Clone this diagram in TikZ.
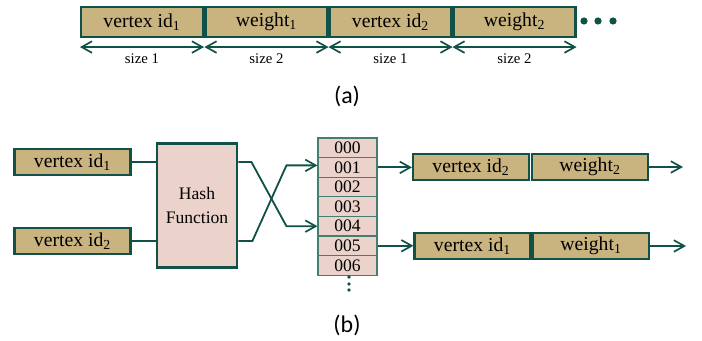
\documentclass[tikz,border=0pt]{standalone}
\usepackage{fontspec}
\setmainfont{Liberation Serif}
\newfontfamily\capfont{Carlito}
\usepackage{tikz}
\usetikzlibrary{arrows.meta, positioning, calc}
\usepackage{xcolor}
\definecolor{mteal}{RGB}{16,82,72}
\definecolor{mtan}{RGB}{201,179,126}
\definecolor{mpink}{RGB}{235,210,202}
\definecolor{lteal}{RGB}{70,125,115}

\begin{document}
\begin{tikzpicture}[x=0.025cm,y=-0.025cm,
  fld/.style={draw=mteal,line width=1.5pt,fill=mtan,inner sep=0pt,
              minimum width=3.05cm,minimum height=0.75cm,font=\fontsize{14}{16}\selectfont},
  fldb/.style={fld,minimum width=2.9cm,minimum height=0.64cm},
  cell/.style={draw=lteal,line width=0.8pt,fill=mpink,inner sep=0pt,
               minimum width=1.475cm,minimum height=0.49cm,font=\fontsize{12.5}{13}\selectfont},
  hashbox/.style={draw=mteal,line width=2pt,fill=mpink,inner sep=0pt,align=center,
                  minimum width=2cm,minimum height=3.1cm,font=\fontsize{12.5}{17}\selectfont},
  arr/.style={-{Straight Barb[length=2.6mm,width=2.9mm,line width=1.2pt]},mteal,line width=1.3pt},
  dim/.style={{Straight Barb[length=2.6mm,width=2.9mm,line width=1.2pt]}-{Straight Barb[length=2.6mm,width=2.9mm,line width=1.2pt]},mteal,line width=1.3pt},
  conn/.style={mteal,line width=1.3pt}
]
\useasboundingbox (0,0) rectangle (702,341);

% (a) record layout
\node[fld] (v1) at (142,22)   {vertex id\textsubscript{1}};
\node[fld] (w1) at (266.5,22) {weight\textsubscript{1}};
\node[fld] (v2) at (390.5,22) {vertex id\textsubscript{2}};
\node[fld] (w2) at (514.5,22) {weight\textsubscript{2}};
\foreach \x in {584,598,613} \fill[mteal] (\x,21) circle (3.6);

\foreach \b/\s in {v1/1,w1/2,v2/1,w2/2}
  \draw[dim] ($(\b.south west)+(0,9)$) -- ($(\b.south east)+(0,9)$)
    node[midway,below=1pt,text=black,font=\fontsize{10.5}{12}\selectfont] {size \s};

\node[font=\capfont\fontsize{17}{18}\selectfont] (capa) at (347,96) {(a)};

% (b) hash table
\node[fldb] (in1) at (72.5,162) {vertex id\textsubscript{1}};
\node[fldb] (in2) at (72.5,241) {vertex id\textsubscript{2}};
\node[hashbox] (hash) at (197,205.5) {Hash\\Function};

\foreach \i/\lab in {0/000,1/001,2/002,3/003,4/004,5/005,6/006}
  \node[cell] (c\i) at (347.5,{147.8+19.6*\i}) {\lab};
\foreach \y in {277,284,290} \fill[mteal] (349,\y) circle (1.8);

\draw[conn] (in1.east) -- (in1.east -| hash.west);
\draw[conn] (in2.east) -- (in2.east -| hash.west);
\draw[arr] (hash.east |- in1) -- ++(13,0) -- ($(c4.west)+(-31,0)$) -- (c4.west);
\draw[arr] (hash.east |- in2) -- ++(14,0) -- ($(c1.west)+(-31,-2)$) -- ($(c1.west)+(0,-2)$);

% chains
\node[fldb] (e1) at (471,167)   {vertex id\textsubscript{2}};
\node[fldb] (e2) at (590,167)   {weight\textsubscript{2}};
\node[fldb] (e3) at (472.5,246) {vertex id\textsubscript{1}};
\node[fldb] (e4) at (591,246)   {weight\textsubscript{1}};
\coordinate (n1) at (683,167);
\coordinate (n2) at (686,246);

\draw[arr] (c1.east) -- (c1.east -| e1.west);
\draw[arr] (c5.east) -- (c5.east -| e3.west);
\draw[arr] (e2.east) -- (n1);
\draw[arr] (e4.east) -- (n2);

\node[font=\capfont\fontsize{17}{18}\selectfont] (capb) at (347,325) {(b)};
\end{tikzpicture}
\end{document}
